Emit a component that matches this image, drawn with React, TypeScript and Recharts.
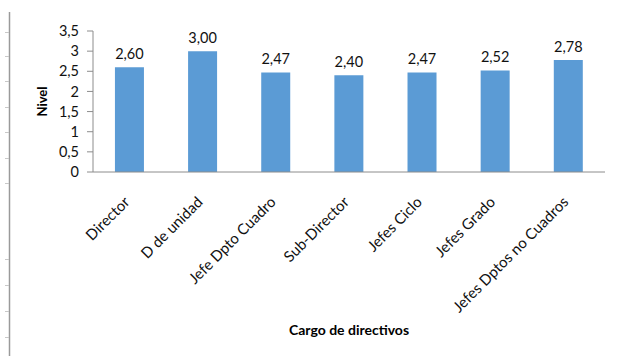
import { BarChart, Bar, XAxis, YAxis, LabelList } from "recharts";

const cargos = [
  "Director",
  "D de unidad",
  "Jefe Dpto Cuadro",
  "Sub-Director",
  "Jefes Ciclo",
  "Jefes Grado",
  "Jefes Dptos no Cuadros",
];
const nivel = [2.6, 3.0, 2.47, 2.4, 2.47, 2.52, 2.78];
const nivelTicks = [0, 0.5, 1, 1.5, 2, 2.5, 3, 3.5];

const data = cargos.map((cargo, i) => ({ cargo, nivel: nivel[i] }));

const FONT = "Lato, 'Open Sans', sans-serif";
const comma = (v: number, d?: number) =>
  (d === undefined ? String(v) : v.toFixed(d)).replace(".", ",");

function CargoTick(props: any) {
  const { x, y, payload } = props;
  return (
    <g transform={`translate(${x + 1},${y + 23})`}>
      <text
        transform="rotate(-45)"
        textAnchor="end"
        fontSize={15}
        fontFamily={FONT}
        fill="#111"
      >
        {payload.value}
      </text>
    </g>
  );
}

function NivelLabel(props: any) {
  const { viewBox } = props;
  const cx = viewBox.x + 9;
  const cy = viewBox.y + viewBox.height / 2;
  return (
    <text
      x={cx}
      y={cy}
      transform={`rotate(-90, ${cx}, ${cy})`}
      textAnchor="middle"
      dominantBaseline="central"
      fontSize={13}
      fontWeight={700}
      fontFamily={FONT}
      fill="#000"
    >
      Nivel
    </text>
  );
}

// regla gris a la izquierda (artefacto de la captura)
const rulerMarks = [32, 56, 81, 107, 132, 158, 183, 259, 285, 311, 337];

export default function App() {
  return (
    <div
      style={{
        position: "absolute",
        left: 0,
        top: 0,
        width: 618,
        height: 356,
        background: "#fff",
        overflow: "hidden",
      }}
    >
      <svg
        width={14}
        height={356}
        style={{ position: "absolute", left: 0, top: 0 }}
      >
        <line x1={9.5} y1={12} x2={9.5} y2={356} stroke="#9a9a9a" strokeWidth={1.5} />
        {rulerMarks.map((m) => (
          <line key={m} x1={5} y1={m + 0.5} x2={9} y2={m + 0.5} stroke="#c8c8c8" />
        ))}
      </svg>
      <div style={{ position: "absolute", left: 0, top: 0 }}>
        <BarChart
          width={618}
          height={356}
          data={data}
          margin={{ top: 31, right: 13, bottom: 0, left: 33 }}
          barCategoryGap="30%"
        >
          <XAxis
            dataKey="cargo"
            interval={0}
            height={184}
            tick={<CargoTick />}
            tickLine={false}
            axisLine={{ stroke: "#8c8c8c" }}
            label={{
              value: "Cargo de directivos",
              position: "insideBottom",
              offset: 21,
              fontSize: 14,
              fontWeight: 700,
              fontFamily: FONT,
              fill: "#000",
            }}
          />
          <YAxis
            width={60}
            domain={[0, 3.5]}
            ticks={nivelTicks}
            interval={0}
            tickFormatter={(v: number) => comma(v)}
            tick={{ fontSize: 14.5, fontFamily: FONT, fill: "#111", dx: -6 }}
            tickLine={{ stroke: "#8c8c8c" }}
            tickSize={6}
            axisLine={{ stroke: "#8c8c8c" }}
            label={<NivelLabel />}
          />
          <Bar dataKey="nivel" fill="#5B9BD5" isAnimationActive={false}>
            <LabelList
              dataKey="nivel"
              position="top"
              offset={8}
              formatter={(v: any) => comma(Number(v), 2)}
              style={{ fontSize: 14.5, fontFamily: FONT, fill: "#111" }}
            />
          </Bar>
        </BarChart>
      </div>
    </div>
  );
}
